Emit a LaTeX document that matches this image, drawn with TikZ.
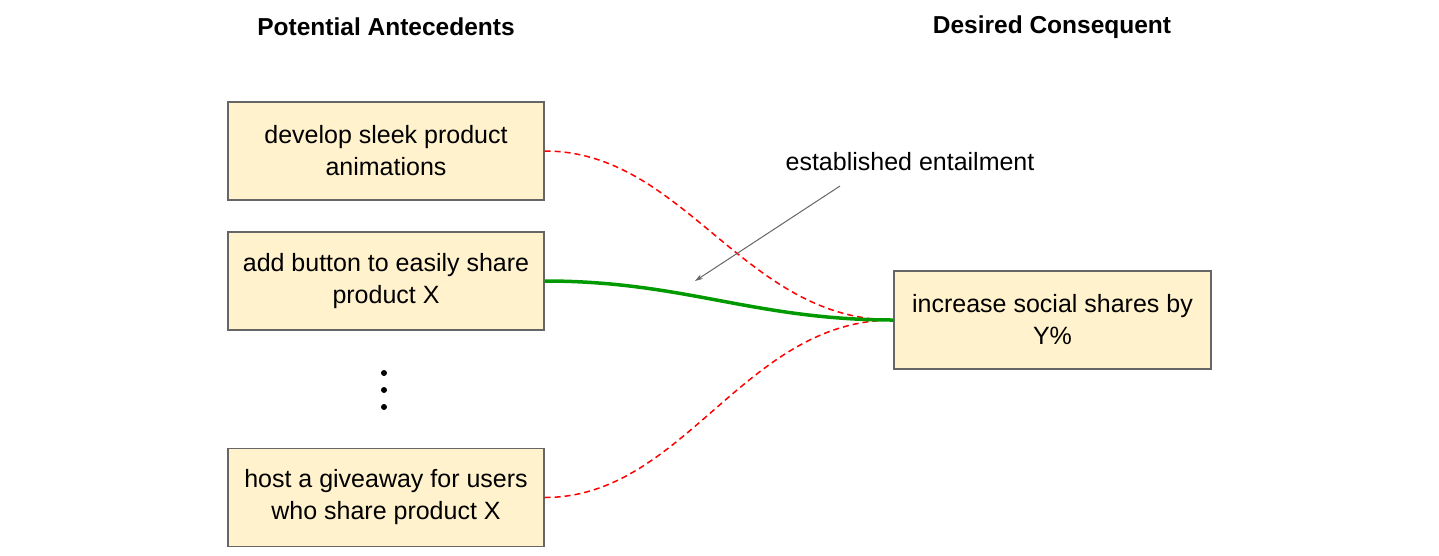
\documentclass[tikz,border=0pt]{standalone}
\usepackage{fontspec}
\setmainfont{Liberation Sans}
\usetikzlibrary{arrows.meta}
\definecolor{boxfill}{HTML}{FFF2CC}
\definecolor{boxline}{HTML}{666666}
\definecolor{goodgreen}{HTML}{009900}
\definecolor{badred}{HTML}{FF0000}
\definecolor{notegray}{HTML}{666666}
\begin{document}
\begin{tikzpicture}[x=1pt,y=-1pt,
  itembox/.style={draw=boxline,line width=1.2pt,fill=boxfill,minimum width=316pt,minimum height=98pt,
    inner sep=0pt,align=center,font=\fontsize{25}{32}\selectfont},
  header/.style={font=\fontsize{24.5}{30}\selectfont\bfseries},
  notelabel/.style={font=\fontsize{25}{32}\selectfont},
  goodlink/.style={draw=goodgreen,line width=3.5pt},
  badlink/.style={draw=badred,line width=1.5pt,dash pattern=on 6pt off 4pt},
  notearrow/.style={draw=notegray,line width=1pt,-{Stealth[length=8pt,width=5pt]}},
  dotmark/.style={circle,fill=black,inner sep=0pt,minimum size=6pt}]
\useasboundingbox (0,0) rectangle (1439,555);
\node[header] (h1) at (386,27) {Potential Antecedents};
\node[header] (h2) at (1052,27) {Desired Consequent};
\node[itembox] (a1) at (386,151) {develop sleek product\\animations};
\node[itembox] (a2) at (386,281) {add button to easily share\\product X};
\node[itembox] (a4) at (386,497.5) {host a giveaway for users\\who share product X};
\node[itembox,minimum width=317pt] (cons) at (1052.5,320) {increase social shares by\\Y\%};
\node[dotmark] (d1) at (384,373) {};
\node[dotmark] (d2) at (384,390) {};
\node[dotmark] (d3) at (384,407) {};
\node[notelabel] (note) at (910,162) {established entailment};
\coordinate (arrowstart) at (840,186);
\coordinate (arrowend) at (695,281);
\draw[badlink] (a1.east) .. controls +(140,0) and +(-150,0) .. (cons.west);
\draw[badlink] (a4.east) .. controls +(140,0) and +(-150,0) .. (cons.west);
\draw[goodlink] (a2.east) .. controls +(140,0) and +(-140,0) .. (cons.west);
\draw[notearrow] (arrowstart) -- (arrowend);
\end{tikzpicture}
\end{document}
